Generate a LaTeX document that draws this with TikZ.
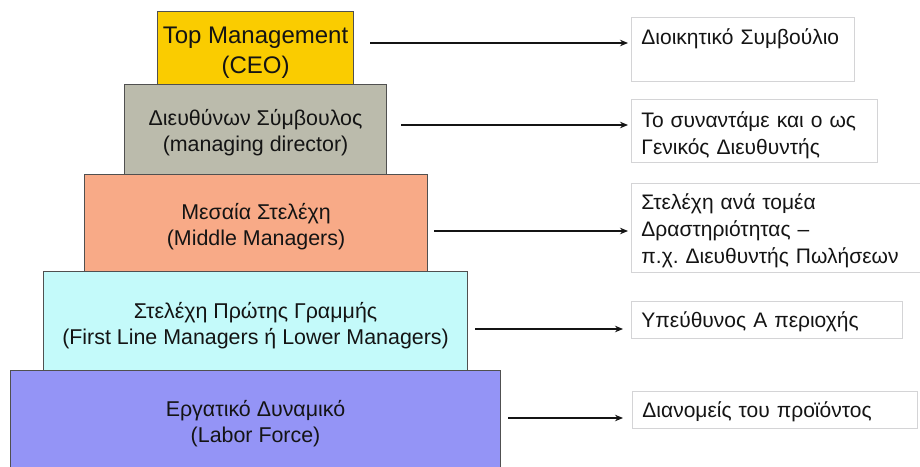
\documentclass[tikz,border=0pt]{standalone}
\usepackage{fontspec}
\setmainfont{Liberation Sans}
\usetikzlibrary{arrows.meta}

\definecolor{ceofill}{RGB}{250,204,0}
\definecolor{mdfill}{RGB}{187,187,172}
\definecolor{midfill}{RGB}{248,170,135}
\definecolor{linefill}{RGB}{196,250,250}
\definecolor{laborfill}{RGB}{148,148,246}
\definecolor{tierline}{RGB}{80,80,80}
\definecolor{noteline}{RGB}{212,212,214}
\definecolor{ink}{RGB}{20,20,20}

% taller first line, which moves a centred block of lines a little down
\newcommand\liftby[1]{\rule{0pt}{#1}}
% deeper last line, which moves a centred block of lines a little up
\newcommand\sinkby[1]{\rule[-#1]{0pt}{0pt}}

\begin{document}
\frenchspacing
\begin{tikzpicture}[x=1pt,y=-1pt,
  tier/.style={draw=tierline, line width=1.1pt, anchor=north west, align=center,
    inner sep=0pt, text=ink, font=\fontsize{21.4}{26}\selectfont},
  note/.style={draw=noteline, line width=0.9pt, anchor=north west, align=left,
    inner xsep=10pt, inner ysep=0pt, text=ink, font=\fontsize{21}{27}\selectfont},
  link/.style={draw=ink, line width=1.2pt, -{Stealth[length=8pt,width=6.5pt]}}]

\clip (0,0) rectangle (920,466);
\fill[white] (0,0) rectangle (920,466);

% the hierarchy, top tier first
\node[tier, fill=ceofill, minimum width=196pt, minimum height=73pt,
      font=\fontsize{24}{30}\selectfont] (ceo) at (157,11)
  {\liftby{26pt}Top Management\\(CEO)};
\node[tier, fill=mdfill, minimum width=262pt, minimum height=90pt] (md) at (124,84)
  {\liftby{23pt}Διευθύνων Σύμβουλος\\(managing director)};
\node[tier, fill=midfill, minimum width=343pt, minimum height=97pt] (mid) at (84,174)
  {\liftby{23pt}Μεσαία Στελέχη\\(Middle Managers)};
\node[tier, fill=linefill, minimum width=424pt, minimum height=99pt] (first) at (43,271)
  {\liftby{25pt}Στελέχη Πρώτης Γραμμής\\(First Line Managers ή Lower Managers)};
\node[tier, fill=laborfill, minimum width=490pt, minimum height=111pt] (labor) at (10,370)
  {Εργατικό Δυναμικό\\(Labor Force)\sinkby{9pt}};

% descriptions on the right
\node[note, text width=203pt, minimum height=64pt] (n1) at (631,17)
  {\liftby{18pt}Διοικητικό Συμβούλιο\\\mbox{}};
\node[note, text width=226pt, minimum height=63pt] (n2) at (631,99)
  {\liftby{25pt}Το συναντάμε και ο ως\\Γενικός Διευθυντής};
\node[note, text width=290pt, minimum height=89pt] (n3) at (631,183)
  {\liftby{21pt}Στελέχη ανά τομέα\\Δραστηριότητας –\\π.χ. Διευθυντής Πωλήσεων};
\node[note, text width=251pt, minimum height=37pt] (n4) at (631,301)
  {\liftby{20pt}Υπεύθυνος Α περιοχής};
\node[note, text width=265pt, minimum height=37pt] (n5) at (632,391)
  {\liftby{20pt}Διανομείς του προϊόντος};

% arrow tails beside each tier
\coordinate (a1) at (370,43);
\coordinate (a2) at (401,125);
\coordinate (a3) at (434,231);
\coordinate (a4) at (475,329);
\coordinate (a5) at (508,418);

\draw[link] (a1) -- ([xshift=-3pt]a1 -| n1.west);
\draw[link] (a2) -- ([xshift=-3pt]a2 -| n2.west);
\draw[link] (a3) -- ([xshift=-3pt]a3 -| n3.west);
\draw[link] (a4) -- ([xshift=-8pt]a4 -| n4.west);
\draw[link] (a5) -- ([xshift=-9pt]a5 -| n5.west);
\end{tikzpicture}
\end{document}
